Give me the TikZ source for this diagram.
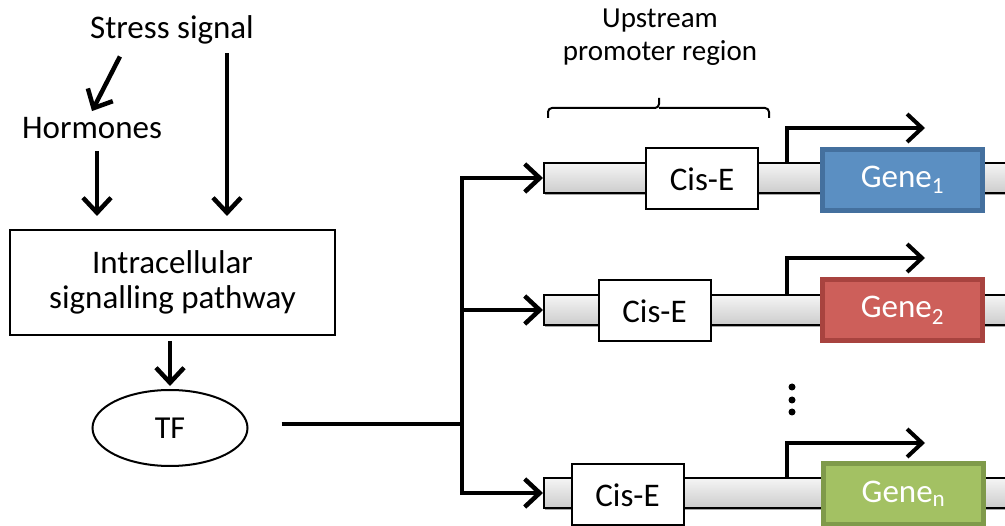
\documentclass[tikz,border=0pt]{standalone}
\usepackage{fontspec}
\setmainfont{Carlito}
\usetikzlibrary{arrows.meta,shapes.geometric,shadows,calc}

\definecolor{geneblue}{HTML}{5B8FC2}
\definecolor{geneblueline}{HTML}{44709E}
\definecolor{genered}{HTML}{CD5F5A}
\definecolor{generedline}{HTML}{A8433F}
\definecolor{genegreen}{HTML}{A3C163}
\definecolor{genegreenline}{HTML}{7F9A4A}

\tikzset{
  sig/.style={line width=4.5pt, -{Straight Barb[length=15pt,width=28pt]}},
  wire/.style={line width=4.5pt},
  lbl/.style={font=\fontsize{33}{35}\selectfont, align=center, inner sep=0pt},
  dnabar/.style={draw, line width=1.6pt, top color=gray!8, bottom color=gray!40,
    minimum width=480pt, minimum height=30pt, inner sep=0pt, anchor=west,
    drop shadow={shadow xshift=1.5pt, shadow yshift=-2pt, fill=black, opacity=0.35}},
  ciselem/.style={draw, line width=2pt, fill=white, minimum width=112pt,
    minimum height=61pt, inner sep=0pt, font=\fontsize{33}{35}\selectfont},
  genebox/.style 2 args={draw=#2, fill=#1, line width=5pt, minimum width=160pt,
    minimum height=61pt, inner sep=0pt, text=white, font=\fontsize{33}{35}\selectfont},
  bracket/.style={line width=2pt}
}

\begin{document}
\begin{tikzpicture}[x=1pt, y=-1pt]
  \path[use as bounding box, fill=white] (0,0) rectangle (1005,526);

  % signal side
  \node[lbl] (stress) at (172,30) {Stress signal};
  \node[lbl] (horm) at (92,128) {Hormones};
  \node[lbl, draw, line width=2pt, minimum width=325pt, minimum height=105pt]
    (pathway) at (172.5,282.5) {Intracellular\\signalling pathway};
  \node[draw, ellipse, line width=2pt, minimum width=155pt, minimum height=76pt,
    font=\fontsize{32}{34}\selectfont] (tf) at (170,428) {TF};

  \draw[sig] ($(stress.south west)+(30,12)$) -- ($(horm.north)+(0,-6)$);
  \draw[sig, shorten <=12pt, shorten >=13pt] ([xshift=5pt]horm.south) -- ([xshift=5pt]horm.south |- pathway.north);
  \draw[sig, shorten <=9pt, shorten >=13pt] ([xshift=55pt]stress.south) -- ([xshift=55pt]stress.south |- pathway.north);
  \draw[sig, shorten <=5pt, shorten >=3pt] (pathway.south -| tf) -- (tf.north);

  % promoter and genes
  \node[dnabar] (bar1) at (543,178) {};
  \node[dnabar] (bar2) at (543,310) {};
  \node[dnabar] (bar3) at (543,493) {};

  \node[ciselem] (cis1) at (702,179) {Cis-E};
  \node[ciselem] (cis2) at (654.5,311) {Cis-E};
  \node[ciselem] (cis3) at (627.5,495) {Cis-E};

  \node[genebox={geneblue}{geneblueline}] (gene1) at (902.5,180) {\raisebox{-3pt}{Gene\textsubscript{1}}};
  \node[genebox={genered}{generedline}] (gene2) at (902.5,310.5) {\raisebox{-3pt}{Gene\textsubscript{2}}};
  \node[genebox={genegreen}{genegreenline}] (gene3) at (903.5,494) {\raisebox{-3pt}{Gene\textsubscript{n}}};

  % transcription start sites
  \coordinate (tss1) at (787,163);
  \coordinate (tss2) at (787,295);
  \coordinate (tss3) at (787,478);
  \draw[sig, line width=4pt] (tss1) |- ++(138,-35);
  \draw[sig, line width=4pt] (tss2) |- ++(138,-37);
  \draw[sig, line width=4pt] (tss3) |- ++(138,-35);

  \foreach \y in {387,400,412}
    \fill (792,\y) circle (3.5);

  % TF binds the promoters
  \coordinate (fork) at (462,424);
  \draw[wire, shorten <=33pt] (tf.east |- fork) -- (fork);
  \draw[sig] (fork |- bar3.west) -- (fork |- bar1.west) -- (bar1.west);
  \draw[sig] (fork |- bar1.west) -- (fork |- bar3.west) -- (bar3.west);
  \draw[sig] (fork |- bar2.west) -- (bar2.west);

  % upstream region bracket
  \node[lbl, font=\fontsize{29}{33}\selectfont] (upstream) at (660,37) {Upstream\\promoter region};
  \draw[bracket] (548,118) [rounded corners=4pt] |- (659,108) [sharp corners] -- (659,98);
  \draw[bracket] (769,118) [rounded corners=4pt] |- (659,108);
\end{tikzpicture}
\end{document}
